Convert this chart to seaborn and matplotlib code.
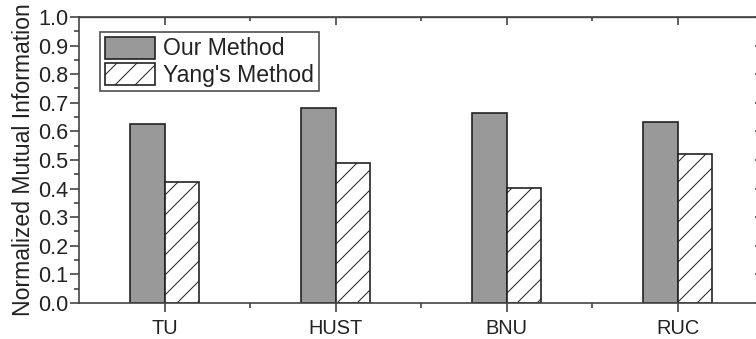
import pandas as pd
import seaborn as sns
import matplotlib.pyplot as plt
from matplotlib.ticker import MultipleLocator, FixedLocator

datasets = ['TU', 'HUST', 'BNU', 'RUC']
methods = ['Our Method', "Yang's Method"]
our_method = [0.625, 0.683, 0.663, 0.632]
yang_method = [0.422, 0.488, 0.401, 0.522]

df = pd.DataFrame({
    'Dataset': datasets * 2,
    'Method': [methods[0]] * 4 + [methods[1]] * 4,
    'NMI': our_method + yang_method,
})

sns.set_style('ticks')
plt.rcParams['font.family'] = ['Liberation Sans', 'DejaVu Sans']
plt.rcParams['hatch.linewidth'] = 0.6
plt.rcParams['hatch.color'] = '#222222'

fig = plt.figure(figsize=(6.3, 2.825), dpi=120)
ax = fig.add_axes([0.1045, 0.1062, 0.905, 0.8437])

sns.barplot(data=df, x='Dataset', y='NMI', hue='Method', order=datasets,
            hue_order=methods, palette=['#999999', 'white'], width=0.4,
            edgecolor='#222222', linewidth=1.0, saturation=1, legend=False, ax=ax)

for bar in ax.containers[1]:
    bar.set_hatch('//')

ax.set_xlim(-0.5, 3.5)
ax.set_ylim(0, 1.0)
ax.yaxis.set_major_locator(MultipleLocator(0.1))
ax.yaxis.set_minor_locator(MultipleLocator(0.05))
ax.xaxis.set_minor_locator(FixedLocator([0.5, 1.5, 2.5]))
ax.yaxis.set_major_formatter(plt.FormatStrFormatter('%.1f'))

ax.set_xlabel('')
ax.set_ylabel('Normalized Mutual Information', fontsize=13.8, color='#222222', labelpad=2)

for spine in ax.spines.values():
    spine.set_visible(True)
    spine.set_color('#444444')
    spine.set_linewidth(1.0)

ax.tick_params(axis='both', which='major', direction='out', length=5.4, width=1.0,
               color='#444444', labelcolor='#222222', pad=1)
ax.tick_params(axis='both', which='minor', direction='out', length=3, width=1.0,
               color='#444444')
ax.tick_params(axis='y', which='major', labelsize=13)
ax.tick_params(axis='x', which='major', labelsize=12, pad=4)

# mirrored ticks on top and right, pointing inward
top = ax.secondary_xaxis('top')
top.set_xticks([0, 1, 2, 3])
top.xaxis.set_minor_locator(FixedLocator([0.5, 1.5, 2.5]))
top.tick_params(which='major', direction='in', length=5, width=1.0, color='#444444', labeltop=False)
top.tick_params(which='minor', direction='in', length=2.5, width=1.0, color='#444444')
top.spines['top'].set_color('#444444')

right = ax.secondary_yaxis('right')
right.yaxis.set_major_locator(MultipleLocator(0.1))
right.yaxis.set_minor_locator(MultipleLocator(0.05))
right.tick_params(which='major', direction='in', length=5, width=1.0, color='#444444', labelright=False)
right.tick_params(which='minor', direction='in', length=2.5, width=1.0, color='#444444')
right.spines['right'].set_color('#444444')

leg = ax.legend(ax.containers, methods, loc='upper left', bbox_to_anchor=(0.0307, 0.9476),
                borderaxespad=0, fontsize=13.8, frameon=True, fancybox=False,
                handlelength=2.2, handleheight=1.1, labelspacing=0.1,
                handletextpad=0.35, borderpad=0.2)
leg.get_frame().set_edgecolor('#222222')
leg.get_frame().set_linewidth(1.0)
for t in leg.get_texts():
    t.set_color('#222222')

fig.savefig('out.png', dpi=120, facecolor='white')
plt.close(fig)
